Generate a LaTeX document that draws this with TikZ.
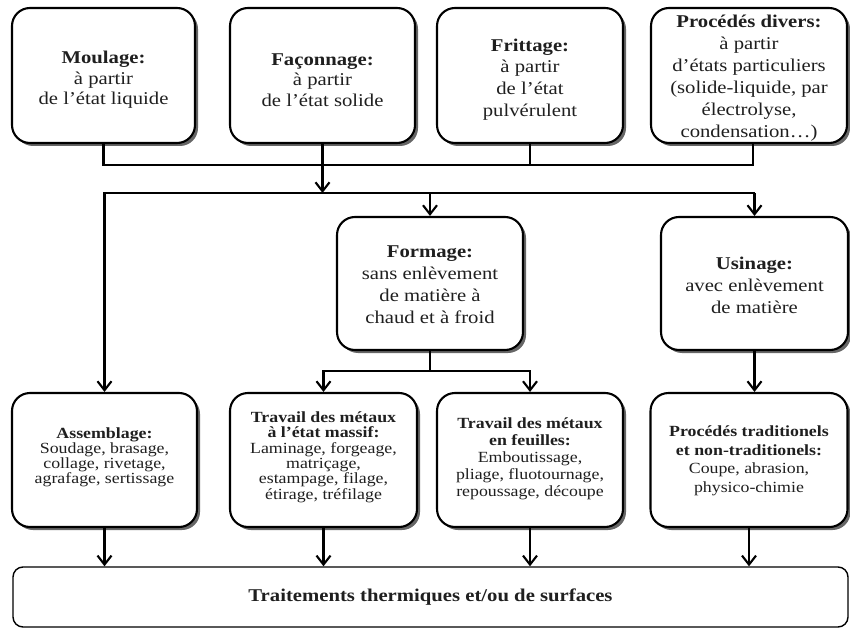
\documentclass[tikz,border=0pt]{standalone}
\usepackage{fontspec}
\setmainfont[FakeStretch=1.15]{Liberation Serif}
\usetikzlibrary{arrows.meta,shadows}
\begin{document}
\begin{tikzpicture}[x=1pt,y=-1pt,
  box/.style={draw, line width=2.1pt, rounded corners=18pt, fill=white, inner sep=0pt,
    drop shadow={shadow xshift=3pt, shadow yshift=-3pt, opacity=0.6, fill=black}},
  txt/.style={align=center, inner sep=0pt, text=black!88},
  toptxt/.style={txt, font=\fontsize{18}{20.5}\selectfont},
  midtxt/.style={txt, font=\fontsize{18}{22}\selectfont},
  wire/.style={line width=2.1pt},
  arr/.style={wire, -{Straight Barb[length=9pt,width=14pt,line width=2.1pt]}},
]
\useasboundingbox (0,0) rectangle (850,628);

% top row boxes
\node[box, minimum width=183pt, minimum height=135pt] (mou) at (103.5,75.5) {};
\node[box, minimum width=185pt, minimum height=135pt] (fac) at (322.5,75.5) {};
\node[box, minimum width=186pt, minimum height=135pt] (fri) at (530,75.5) {};
\node[box, minimum width=196pt, minimum height=135pt] (div) at (749,75.5) {};
\node[toptxt] (mout) at (103.5,80) {\textbf{Moulage:}\\à partir\\de l’état liquide};
\node[toptxt] (fact) at (322.5,80) {\textbf{Façonnage:}\\à partir\\de l’état solide};
\node[toptxt, font=\fontsize{18}{21.7}\selectfont] (frit) at (530,79.5) {\textbf{Frittage:}\\à partir\\de l’état\\pulvérulent};
\node[toptxt, font=\fontsize{18}{22}\selectfont] (divt) at (749,78.5) {\textbf{Procédés divers:}\\à partir\\d’états particuliers\\(solide-liquide, par\\électrolyse,\\condensation…)};

% middle row
\node[box, minimum width=186pt, minimum height=133pt] (form) at (430,283.5) {};
\node[box, minimum width=187pt, minimum height=133pt] (usi) at (754.5,283.5) {};
\node[midtxt] (formt) at (430,285) {\textbf{Formage:}\\sans enlèvement\\de matière à\\chaud et à froid};
\node[midtxt] (usit) at (754.5,285) {\textbf{Usinage:}\\avec enlèvement\\de matière};

% bottom row
\node[box, minimum width=185pt, minimum height=134pt] (ass) at (104.5,460) {};
\node[box, minimum width=187pt, minimum height=134pt] (mas) at (323.5,460) {};
\node[box, minimum width=186pt, minimum height=134pt] (feu) at (530,460) {};
\node[box, minimum width=197pt, minimum height=134pt] (tra) at (749,460) {};
\node[txt, font=\fontsize{15.5}{15}\selectfont] (asst) at (104.5,457.5) {\textbf{Assemblage:}\\Soudage, brasage,\\collage, rivetage,\\agrafage, sertissage};
\node[txt, font=\fontsize{15.5}{15.4}\selectfont] (mast) at (323.5,457) {\textbf{Travail des métaux}\\\textbf{à l’état massif:}\\Laminage, forgeage,\\matriçage,\\estampage, filage,\\étirage, tréfilage};
\node[txt, font=\fontsize{15.5}{17}\selectfont] (feut) at (530,459) {\textbf{Travail des métaux}\\\textbf{en feuilles:}\\Emboutissage,\\pliage, fluotournage,\\repoussage, découpe};
\node[txt, font=\fontsize{15.5}{18.5}\selectfont] (trat) at (749,461) {\textbf{Procédés traditionels}\\\textbf{et non-traditionels:}\\Coupe, abrasion,\\physico-chimie};

% final box
\node[draw, line width=1.4pt, rounded corners=10pt, fill=white, text=black!88, minimum width=835pt, minimum height=60pt,
  font=\bfseries\fontsize{18}{20}\selectfont] (bot) at (430.5,597) {Traitements thermiques et/ou de surfaces};

% connectors
\coordinate (b1) at (0,165);
\coordinate (b2) at (0,193);
\coordinate (b3) at (0,371);
\coordinate (divs) at ([xshift=4pt]div.south);
\draw[wire] (mou.south) -- (mou.south |- b1) -- (divs |- b1) -- (divs);
\draw[wire] (fri.south) -- (fri.south |- b1);
\draw[arr] (fac.south) -- (fac.south |- b2);
\draw[arr] (usi.north |- b2) -- (ass.north |- b2) -- (ass.north);
\draw[arr] (usi.north |- b2) -- (usi.north);
\draw[arr] (form.north |- b2) -- (form.north);
\draw[wire] (form.south) -- (form.south |- b3);
\draw[arr] (form.south |- b3) -| (mas.north);
\draw[arr] (form.south |- b3) -| (feu.north);
\draw[arr] (usi.south) -- (usi.south |- tra.north);
\foreach \n in {ass,mas,feu,tra} \draw[arr] (\n.south) -- (\n.south |- bot.north);
\end{tikzpicture}
\end{document}
